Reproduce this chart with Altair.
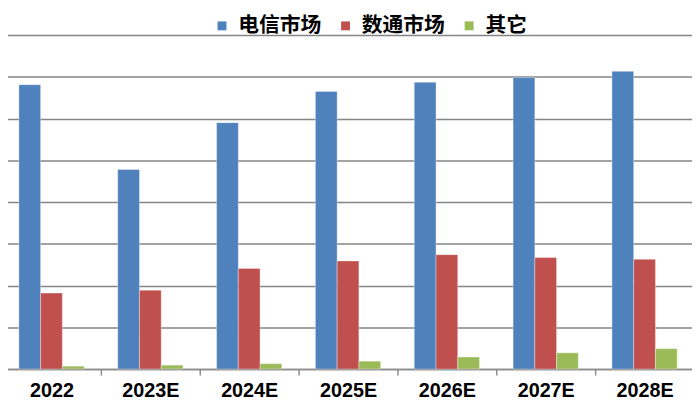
import altair as alt
import pandas as pd

years = ["2022", "2023E", "2024E", "2025E", "2026E", "2027E", "2028E"]
series = ["电信市场", "数通市场", "其它"]
telecom = [681, 478, 590, 665, 687, 698, 713]
datacom = [182, 189, 241, 259, 274, 267, 263]
other = [7, 9.5, 13, 19, 29, 39, 49]
colors = ["#4F81BD", "#C0504D", "#9BBB59"]
grid_values = [0, 100, 200, 300, 400, 500, 600, 700, 800]

rows = []
for name, vals in zip(series, [telecom, datacom, other]):
    for y, v in zip(years, vals):
        rows.append({"year": y, "series": name, "value": v})
df = pd.DataFrame(rows)

chart = alt.Chart(df).mark_bar(
    stroke="#ffffff", strokeOpacity=0.35, strokeWidth=1
).encode(
    x=alt.X("year:N", sort=years, title=None,
            scale=alt.Scale(paddingInner=0, paddingOuter=0),
            axis=alt.Axis(labelAngle=0, tickBand="extent", domainColor="#8c8c8c",
                          domainWidth=1.5, tickColor="#8c8c8c", tickWidth=1.5,
                          tickSize=6, labelPadding=6, labelFont="Liberation Sans",
                          labelFontWeight="bold", labelFontSize=20, labelColor="#000000",
                          grid=False)),
    xOffset=alt.XOffset("series:N", sort=series,
                        scale=alt.Scale(paddingInner=0, paddingOuter=0.7727)),
    y=alt.Y("value:Q", title=None,
            scale=alt.Scale(domain=[0, 800], nice=False),
            axis=alt.Axis(values=grid_values, labels=False, ticks=False, domain=False,
                          grid=True, gridColor="#858585", gridWidth=1.5)),
    color=alt.Color("series:N", sort=series,
                    scale=alt.Scale(domain=series, range=colors),
                    legend=alt.Legend(title=None, orient="none", direction="horizontal",
                                      legendX=212, legendY=-20, symbolType="square",
                                      symbolSize=81, symbolStrokeWidth=0,
                                      labelFont="Noto Sans CJK SC", labelFontWeight="bold",
                                      labelFontSize=21, labelColor="#000000",
                                      labelOffset=6, columnPadding=14, padding=0)),
).properties(
    width=700, height=338,
    autosize=alt.AutoSizeParams(type="none"),
    padding={"left": -6, "top": 25, "right": -2, "bottom": 33},
).configure_view(stroke=None).configure(background="#ffffff")

chart.save("out.html", embed_options={"renderer": "svg", "actions": False})
